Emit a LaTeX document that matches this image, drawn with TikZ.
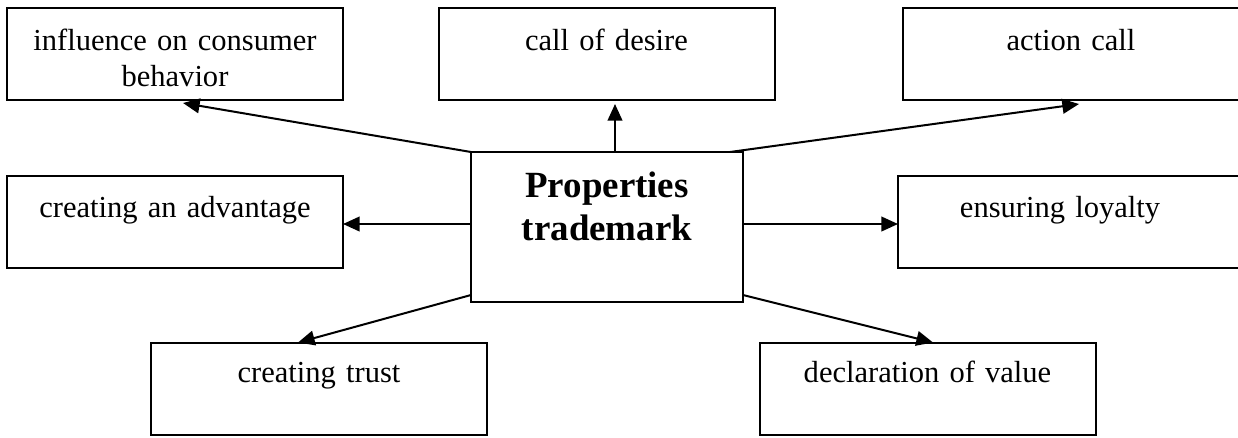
\documentclass[tikz,border=0pt]{standalone}
\usepackage{fontspec}
\setmainfont{Liberation Serif}
\usetikzlibrary{arrows.meta,calc}

\begin{document}
\begin{tikzpicture}[x=0.75pt,y=-0.75pt,
  box/.style={draw, line width=1.5pt, rectangle, inner sep=0pt, outer sep=0pt,
              minimum width=252pt, minimum height=69pt},
  hub/.style={draw, line width=1.5pt, rectangle, inner sep=0pt, outer sep=0pt,
              minimum width=204pt, minimum height=112.5pt},
  txt/.style={anchor=base, inner sep=0pt, text width=250pt, align=center,
              font=\fontsize{22.9pt}{27pt}\selectfont},
  hubtxt/.style={anchor=base, inner sep=0pt, text width=200pt, align=center,
              font=\fontsize{27.7pt}{32.3pt}\selectfont\bfseries},
  link/.style={line width=1.5pt, -{Triangle[length=12.5pt,width=11pt]}}]

\useasboundingbox (0,0) rectangle (1238,437);
\clip (0,0) rectangle (1238,437);

% outer boxes
\node[box] (tl) at (175,54) {};
\node[box] (tm) at (606.5,54) {};
\node[box] (tr) at (1071,54) {};
\node[box] (ml) at (175,222) {};
\node[box, minimum width=264pt] (mr) at (1074,222) {};
\node[box] (bl) at (319,388.5) {};
\node[box] (br) at (927.5,388.5) {};

% central box
\node[hub] (c) at (607,227) {};

% labels
\node[txt] (tlt) at (175,50) {influence on consumer\\behavior};
\node[txt] (tmt) at (606.5,50) {call of desire};
\node[txt] (trt) at (1071,50) {action call};
\node[txt] (mlt) at (175,217) {creating an advantage};
\node[txt] (mrt) at (1060,217) {ensuring loyalty};
\node[txt] (blt) at (319,382) {creating trust};
\node[txt] (brt) at (927.5,382) {declaration of value};
\node[hubtxt] (ct) at (607,197) {Properties\\trademark};

% connectors
\draw[link] (c.north west) -- ($(tl.south)+(8,3)$);
\draw[link] ($(c.north)+(8,0)$) -- ($(tm.south)+(8.5,4)$);
\draw[link] ($(c.north east)+(-13,0)$) -- ($(tr.south)+(8,4)$);
\draw[link] ($(c.west)+(0,-3)$) -- ($(ml.east)+(0,2)$);
\draw[link] ($(c.east)+(0,-3)$) -- ($(mr.west)+(0,2)$);
\draw[link] ($(c.south west)+(0,-7)$) -- ($(bl.north)+(-21,0)$);
\draw[link] ($(c.south east)+(0,-7)$) -- ($(br.north)+(5.5,0)$);
\end{tikzpicture}
\end{document}
